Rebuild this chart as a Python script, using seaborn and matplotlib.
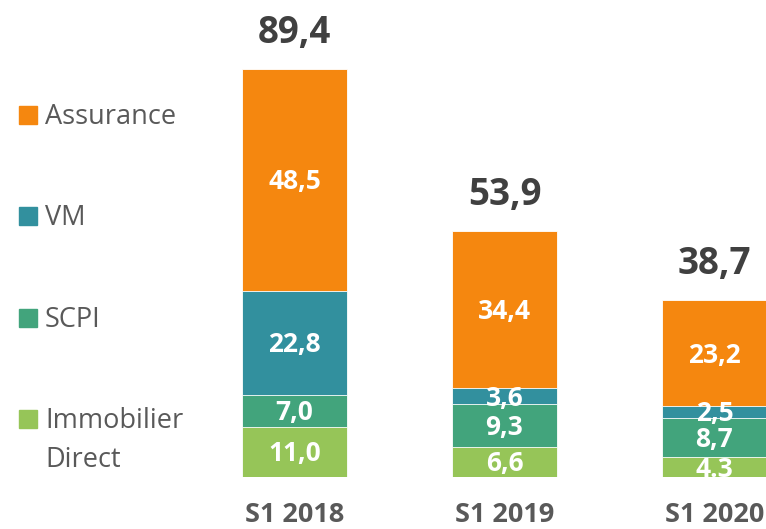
import matplotlib
matplotlib.use("Agg")
import matplotlib.pyplot as plt
import seaborn as sns
import pandas as pd

# --- data ---
periods = ["S1 2018", "S1 2019", "S1 2020"]
immobilier = [11.0, 6.6, 4.3]
scpi = [7.0, 9.3, 8.7]
vm = [22.8, 3.6, 2.5]
assurance = [48.5, 34.4, 23.2]
totals = [89.4, 53.9, 38.7]

immo_lbl = ["11,0", "6,6", "4.3"]
scpi_lbl = ["7,0", "9,3", "8,7"]
vm_lbl = ["22,8", "3,6", "2,5"]
assu_lbl = ["48,5", "34,4", "23,2"]
total_lbl = ["89,4", "53,9", "38,7"]

series = ["Assurance", "VM", "SCPI", "Immobilier\nDirect"]
colors = ["#F5870F", "#32909E", "#42A47C", "#96C558"]

sns.set_theme(style="white")
plt.rcParams['font.family'] = ['Open Sans', 'DejaVu Sans']

df = pd.DataFrame({'period': periods, 'immo': immobilier, 'scpi': scpi,
                   'vm': vm, 'assu': assurance})
df['c1'] = df['immo']
df['c2'] = df['c1'] + df['scpi']
df['c3'] = df['c2'] + df['vm']
df['c4'] = df['c3'] + df['assu']

fig = plt.figure(figsize=(7.66, 5.29), dpi=100)
ax = fig.add_axes([242 / 766, 52 / 529, 525 / 766, 477 / 529])

# stacked bars: draw cumulative heights from the top down
for col, color in zip(['c4', 'c3', 'c2', 'c1'], colors):
    sns.barplot(data=df, x='period', y=col, color=color, width=0.5,
                edgecolor='white', linewidth=0.6, saturation=1, ax=ax)

ax.set_xlim(-0.25, 2.25)
ax.set_ylim(0, 104.5)
ax.set_xlabel('')
ax.set_ylabel('')
ax.set_yticks([])
sns.despine(ax=ax, left=True, bottom=True)
ax.tick_params(axis='x', length=0, pad=18)
for t in ax.get_xticklabels():
    t.set_fontsize(19.5)
    t.set_fontweight('bold')
    t.set_color('#595959')

# segment labels
for i in range(3):
    segs = [(0, immobilier[i], immo_lbl[i]),
            (df['c1'][i], scpi[i], scpi_lbl[i]),
            (df['c2'][i], vm[i], vm_lbl[i]),
            (df['c3'][i], assurance[i], assu_lbl[i])]
    for base, h, lbl in segs:
        ax.text(i, base + h / 2 - 0.4, lbl, ha='center', va='center', color='white',
                fontsize=19, fontweight='bold', clip_on=True)
    ax.text(i, totals[i] + 5.7, total_lbl[i], ha='center', va='baseline',
            color='#404040', fontsize=26.5, fontweight='bold', clip_on=False)

# legend on the left (baselines in pixels from top)
leg_y = [124, 225, 327, 428]
for name, color, y in zip(series, colors, leg_y):
    fig.patches.append(plt.Rectangle((19 / 766, 1 - y / 529), 18 / 766, 18 / 529,
                                     transform=fig.transFigure, color=color))
    for k, line in enumerate(name.split('\n')):
        fig.text(45 / 766, 1 - (y + 39 * k) / 529, line, ha='left', va='baseline',
                 fontsize=19.5, color='#595959')

fig.savefig('out.png', dpi=100)
